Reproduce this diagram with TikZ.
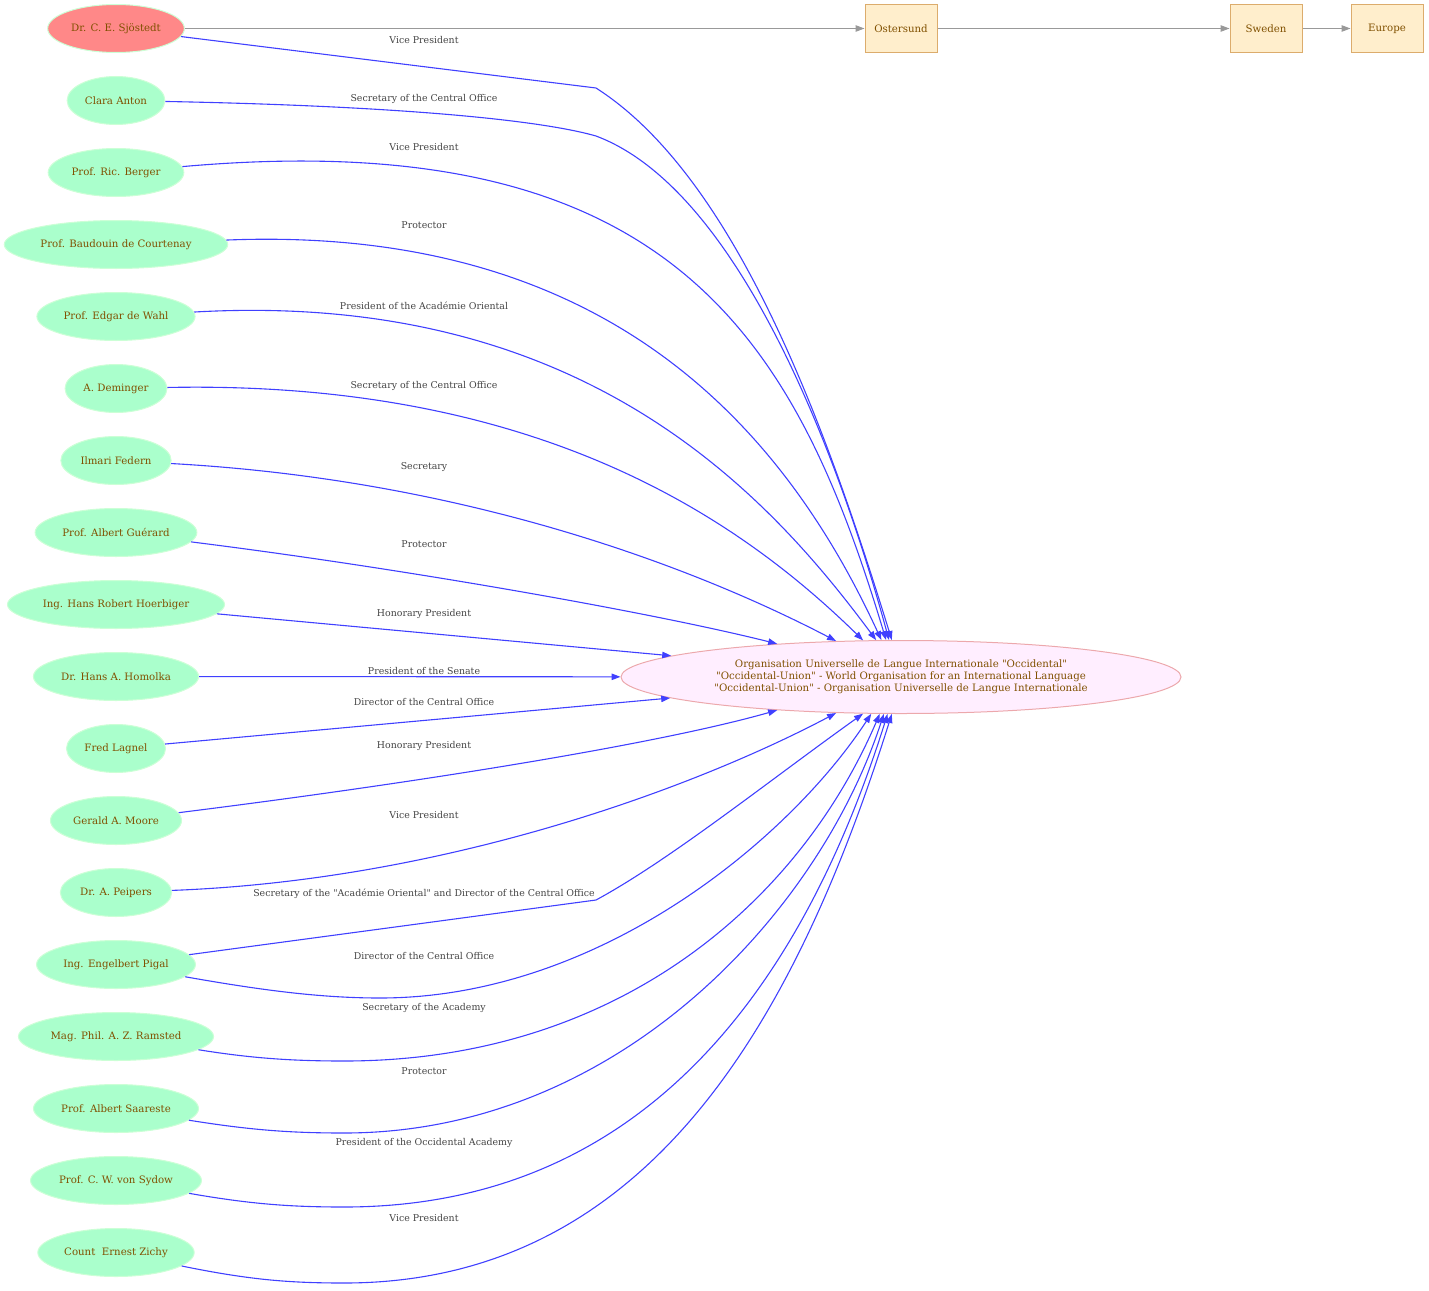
\documentclass[tikz,border=0pt]{standalone}
\usepackage{fontspec}
\setmainfont{DejaVu Serif}[Ligatures=TeXOff]
\usetikzlibrary{arrows.meta,positioning,shapes.geometric}
\definecolor{relblue}{RGB}{64,64,255}
\definecolor{namebrown}{RGB}{128,80,0}
\definecolor{mint}{RGB}{170,255,204}
\definecolor{mintline}{RGB}{204,255,214}
\definecolor{salmon}{RGB}{255,136,136}
\definecolor{lilac}{RGB}{255,238,255}
\definecolor{lilacline}{RGB}{236,168,172}
\definecolor{sand}{RGB}{255,238,204}
\definecolor{sandline}{RGB}{220,172,108}
\definecolor{locgrey}{RGB}{153,153,153}
\definecolor{labgrey}{RGB}{68,68,68}
\tikzset{
    %Define standard arrow tip
    >={Triangle[length=9pt,width=6.5pt]},
    %Define style for people
    person/.style={
           ellipse,
           fill=mint, draw=mintline, line width=1pt,
           minimum height=48pt,
           inner xsep=3.5pt,
           text=namebrown,
           font=\fontsize{10.2}{12}\selectfont},
    founder/.style={
           person,
           fill=salmon},
    % Define style for the union
    union/.style={
           ellipse,
           fill=lilac, draw=lilacline, line width=1pt,
           minimum width=560pt, minimum height=73pt,
           align=center,
           text=namebrown,
           font=\fontsize{10.2}{12}\selectfont},
    % Define style for places
    place/.style={
           rectangle,
           fill=sand, draw=sandline, line width=1pt,
           minimum width=72pt, minimum height=48pt,
           text=namebrown,
           font=\fontsize{10.2}{12}\selectfont},
    % Define arrow styles
    rel/.style={
           ->,
           relblue,
           line width=1.1pt},
    loc/.style={
           ->,
           locgrey,
           line width=1pt},
    % Define style for edge labels
    lab/.style={
           text=labgrey,
           inner sep=0pt,
           font=\fontsize{9.4}{11}\selectfont}
}
\begin{document}
\begin{tikzpicture}[x=1pt, y=-1pt, node distance=23pt]
\useasboundingbox (0,0) rectangle (1429,1290);
\node[founder] (sjostedt) at (116,28.5) {Dr. C. E. Sjöstedt};
\node[person, below=of sjostedt] (anton) {Clara Anton};
\node[person, below=of anton] (berger) {Prof. Ric. Berger};
\node[person, below=of berger] (courtenay) {Prof. Baudouin de Courtenay};
\node[person, below=of courtenay] (wahl) {Prof. Edgar de Wahl};
\node[person, below=of wahl] (deminger) {A. Deminger};
\node[person, below=of deminger] (federn) {Ilmari Federn};
\node[person, below=of federn] (guerard) {Prof. Albert Guérard};
\node[person, below=of guerard] (hoerbiger) {Ing. Hans Robert Hoerbiger};
\node[person, below=of hoerbiger] (homolka) {Dr. Hans A. Homolka};
\node[person, below=of homolka] (lagnel) {Fred Lagnel};
\node[person, below=of lagnel] (moore) {Gerald A. Moore};
\node[person, below=of moore] (peipers) {Dr. A. Peipers};
\node[person, below=of peipers] (pigal) {Ing. Engelbert Pigal};
\node[person, below=of pigal] (ramsted) {Mag. Phil. A. Z. Ramsted};
\node[person, below=of ramsted] (saareste) {Prof. Albert Saareste};
\node[person, below=of saareste] (sydow) {Prof. C. W. von Sydow};
\node[person, below=of sydow] (zichy) {Count\ \ Ernest Zichy};

\node[union] (union) at (901,677) {Organisation Universelle de Langue Internationale "Occidental"\\
  "Occidental-Union" - World Organisation for an International Language\\
  "Occidental-Union" - Organisation Universelle de Langue Internationale};

\node[place] (ostersund) at (901,28.5) {Ostersund};
\node[place] (sweden) at (1266,28.5) {Sweden};
\node[place, right=48pt of sweden] (europe) {Europe};

\draw[loc] (sjostedt) -- (ostersund);
\draw[loc] (ostersund) -- (sweden);
\draw[loc] (sweden) -- (europe);

\draw[rel] (sjostedt) -- (596,88) .. controls (740,180) and (830,440) .. (union.104);
\draw[rel] (anton) .. controls (400,106) and (540,120) .. (596,136)
                   .. controls (740,190) and (840,460) .. (union.108);
\draw[rel] (berger) .. controls (673,123) and (796,341) .. (union.112);
\draw[rel] (courtenay) .. controls (600,225) and (780,420) .. (union.118);
\draw[rel] (wahl) .. controls (580,290) and (765,490) .. (union.124);
\draw[rel] (deminger) .. controls (540,380) and (740,520) .. (union.136);
\draw[rel] (federn) .. controls (470,480) and (700,570) .. (union.151);
\draw[rel] (guerard) .. controls (400,568) and (650,612) .. (union.165);
\draw[rel] (hoerbiger) -- (union);
\draw[rel] (homolka) -- (union);
\draw[rel] (lagnel) -- (union);
\draw[rel] (moore) .. controls (400,785) and (651,746) .. (union.195);
\draw[rel] (peipers) .. controls (450,880) and (700,785) .. (union.209);
\draw[rel] (pigal) -- (596,900) .. controls (670,860) and (770,780) .. (union.224);
\draw[rel] (pigal) .. controls (260,990) and (320,998) .. (380,998)
                   .. controls (600,998) and (790,838) .. (union.231);
\draw[rel] (ramsted) .. controls (250,1058) and (290,1061) .. (344,1061)
                     .. controls (620,1061) and (800,900) .. (union.240);
\draw[rel] (saareste) .. controls (250,1130) and (290,1133) .. (344,1133)
                      .. controls (620,1133) and (820,910) .. (union.245);
\draw[rel] (sydow) .. controls (250,1204) and (290,1207) .. (344,1207)
                   .. controls (644,1207) and (802,986) .. (union.250);
\draw[rel] (zichy) .. controls (250,1280) and (290,1283) .. (344,1283)
                   .. controls (644,1283) and (793,1028) .. (union.256);

% edge labels
\node[lab] (sjostedtrole) at (424,39.6) {Vice President};
\node[lab] (antonrole) at (424,98.5) {Secretary of the Central Office};
\node[lab] (bergerrole) at (424,146.5) {Vice President};
\node[lab] (courtenayrole) at (424,225.6) {Protector};
\node[lab] (wahlrole) at (424,305.6) {President of the Académie Oriental};
\node[lab] (demingerrole) at (424,385.5) {Secretary of the Central Office};
\node[lab] (federnrole) at (424,466.8) {Secretary};
\node[lab] (guerardrole) at (424,543.8) {Protector};
\node[lab] (hoerbigerrole) at (424,613.6) {Honorary President};
\node[lab] (homolkarole) at (424,671) {President of the Senate};
\node[lab] (lagnelrole) at (424,701.5) {Director of the Central Office};
\node[lab] (moorerole) at (424,745.5) {Honorary President};
\node[lab] (peipersrole) at (424,814.8) {Vice President};
\node[lab] (pigalrole) at (424,893.6) {Secretary of the "Académie Oriental" and Director of the Central Office};
\node[lab] (pigalrolb) at (424,955.6) {Director of the Central Office};
\node[lab] (ramstedrole) at (424,1007.6) {Secretary of the Academy};
\node[lab] (saaresterole) at (424,1071.5) {Protector};
\node[lab] (sydowrole) at (424,1142.7) {President of the Occidental Academy};
\node[lab] (zichyrole) at (424,1217.7) {Vice President};
\end{tikzpicture}
\end{document}
